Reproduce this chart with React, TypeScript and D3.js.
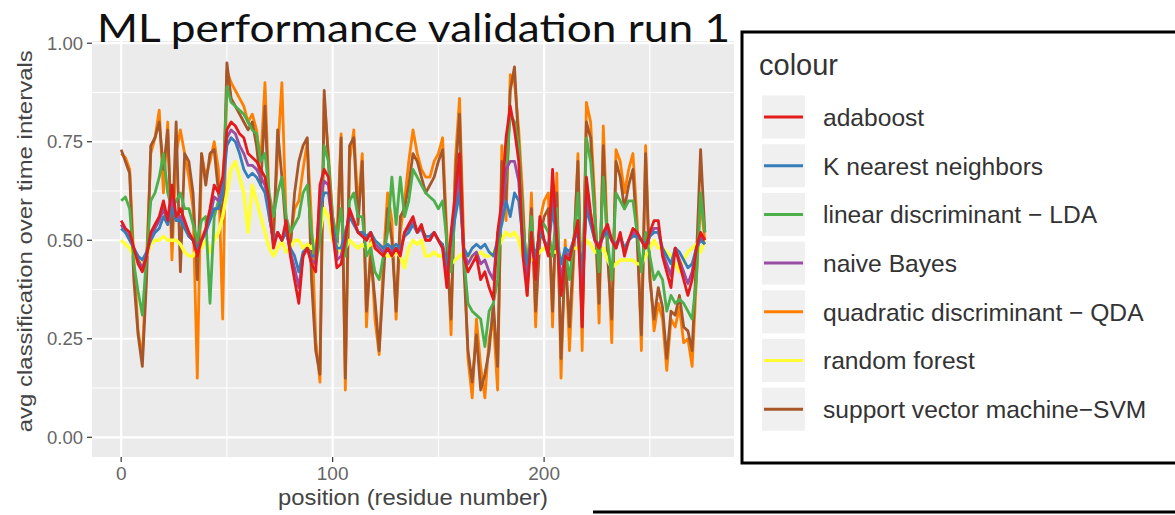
import React from "react";
import * as d3 from "d3";

const positions = [
  0, 2, 4, 6, 8, 10, 12, 14, 16, 18,
  20, 22, 24, 26, 28, 30, 32, 34, 36, 38,
  40, 42, 44, 46, 48, 50, 52, 54, 56, 58,
  60, 62, 64, 66, 68, 70, 72, 74, 76, 78,
  80, 82, 84, 86, 88, 90, 92, 94, 96, 98,
  100, 102, 104, 106, 108, 110, 112, 114, 116, 118,
  120, 122, 124, 126, 128, 130, 132, 134, 136, 138,
  140, 142, 144, 146, 148, 150, 152, 154, 156, 158,
  160, 162, 164, 166, 168, 170, 172, 174, 176, 178,
  180, 182, 184, 186, 188, 190, 192, 194, 196, 198,
  200, 202, 204, 206, 208, 210, 212, 214, 216, 218,
  220, 222, 224, 226, 228, 230, 232, 234, 236, 238,
  240, 242, 244, 246, 248, 250, 252, 254, 256, 258,
  260, 262, 264, 266, 268, 270, 272, 274, 276,
];

const adaboost = [
  0.55, 0.53, 0.52, 0.48, 0.44, 0.42, 0.46, 0.52, 0.54, 0.56,
  0.60, 0.55, 0.64, 0.56, 0.58, 0.55, 0.52, 0.50, 0.46, 0.50,
  0.53, 0.58, 0.64, 0.62, 0.66, 0.78, 0.80, 0.79, 0.77, 0.76,
  0.72, 0.71, 0.70, 0.68, 0.66, 0.60, 0.48, 0.52, 0.50, 0.55,
  0.46, 0.40, 0.34, 0.46, 0.48, 0.44, 0.42, 0.64, 0.68, 0.66,
  0.52, 0.43, 0.44, 0.50, 0.58, 0.55, 0.52, 0.51, 0.50, 0.52,
  0.48, 0.47, 0.46, 0.48, 0.46, 0.48, 0.46, 0.52, 0.54, 0.56,
  0.52, 0.54, 0.50, 0.50, 0.52, 0.50, 0.48, 0.38, 0.52, 0.62,
  0.72, 0.46, 0.42, 0.44, 0.46, 0.40, 0.42, 0.38, 0.35, 0.52,
  0.60, 0.76, 0.84, 0.78, 0.70, 0.46, 0.36, 0.52, 0.40, 0.56,
  0.50, 0.46, 0.68, 0.50, 0.36, 0.46, 0.45, 0.50, 0.55, 0.28,
  0.66, 0.57, 0.50, 0.48, 0.52, 0.54, 0.50, 0.48, 0.52, 0.46,
  0.50, 0.53, 0.52, 0.50, 0.48, 0.52, 0.55, 0.55, 0.46, 0.42,
  0.38, 0.48, 0.44, 0.40, 0.36, 0.40, 0.48, 0.52, 0.50,
];

const knn = [
  0.53, 0.52, 0.50, 0.48, 0.46, 0.45, 0.47, 0.50, 0.52, 0.53,
  0.56, 0.54, 0.58, 0.55, 0.55, 0.53, 0.51, 0.50, 0.48, 0.50,
  0.52, 0.55, 0.58, 0.58, 0.62, 0.74, 0.76, 0.75, 0.72, 0.68,
  0.66, 0.67, 0.66, 0.64, 0.62, 0.56, 0.50, 0.52, 0.50, 0.52,
  0.48, 0.46, 0.42, 0.47, 0.48, 0.46, 0.46, 0.58, 0.62, 0.62,
  0.54, 0.48, 0.48, 0.52, 0.56, 0.54, 0.52, 0.52, 0.51, 0.52,
  0.50, 0.49, 0.48, 0.49, 0.48, 0.49, 0.48, 0.51, 0.52, 0.54,
  0.52, 0.53, 0.51, 0.51, 0.52, 0.50, 0.49, 0.44, 0.50, 0.56,
  0.62, 0.48, 0.46, 0.48, 0.49, 0.48, 0.49, 0.47, 0.46, 0.50,
  0.54, 0.60, 0.56, 0.62, 0.60, 0.50, 0.44, 0.50, 0.46, 0.52,
  0.50, 0.48, 0.58, 0.50, 0.44, 0.48, 0.47, 0.50, 0.52, 0.42,
  0.58, 0.54, 0.50, 0.49, 0.51, 0.52, 0.50, 0.49, 0.51, 0.48,
  0.50, 0.51, 0.51, 0.50, 0.49, 0.51, 0.52, 0.52, 0.48, 0.46,
  0.44, 0.48, 0.47, 0.45, 0.43, 0.44, 0.48, 0.50, 0.49,
];

const lda = [
  0.60, 0.61, 0.58, 0.44, 0.37, 0.31, 0.46, 0.60, 0.62, 0.66,
  0.72, 0.62, 0.58, 0.60, 0.62, 0.58, 0.58, 0.54, 0.50, 0.55,
  0.56, 0.34, 0.56, 0.60, 0.62, 0.89, 0.85, 0.84, 0.83, 0.82,
  0.80, 0.78, 0.77, 0.70, 0.72, 0.62, 0.56, 0.62, 0.66, 0.56,
  0.52, 0.54, 0.56, 0.62, 0.64, 0.52, 0.44, 0.50, 0.74, 0.70,
  0.56, 0.50, 0.58, 0.46, 0.60, 0.62, 0.56, 0.56, 0.46, 0.48,
  0.42, 0.40, 0.46, 0.52, 0.66, 0.54, 0.66, 0.56, 0.60, 0.68,
  0.66, 0.64, 0.62, 0.61, 0.60, 0.58, 0.60, 0.50, 0.42, 0.58,
  0.66, 0.46, 0.34, 0.32, 0.31, 0.30, 0.23, 0.32, 0.34, 0.40,
  0.60, 0.66, 0.82, 0.80, 0.74, 0.54, 0.42, 0.56, 0.40, 0.54,
  0.54, 0.52, 0.46, 0.58, 0.36, 0.48, 0.40, 0.50, 0.62, 0.34,
  0.76, 0.70, 0.56, 0.42, 0.66, 0.50, 0.40, 0.62, 0.60, 0.58,
  0.60, 0.60, 0.52, 0.42, 0.52, 0.46, 0.40, 0.42, 0.40, 0.32,
  0.36, 0.34, 0.35, 0.34, 0.32, 0.30, 0.40, 0.62, 0.52,
];

const naiveBayes = [
  0.54, 0.52, 0.51, 0.48, 0.45, 0.43, 0.46, 0.51, 0.53, 0.55,
  0.58, 0.54, 0.61, 0.55, 0.56, 0.54, 0.51, 0.50, 0.47, 0.50,
  0.52, 0.56, 0.61, 0.60, 0.64, 0.76, 0.78, 0.77, 0.74, 0.72,
  0.69, 0.69, 0.68, 0.66, 0.64, 0.58, 0.49, 0.52, 0.50, 0.53,
  0.47, 0.43, 0.38, 0.46, 0.48, 0.45, 0.44, 0.61, 0.65, 0.64,
  0.53, 0.45, 0.46, 0.51, 0.57, 0.55, 0.52, 0.52, 0.50, 0.52,
  0.49, 0.48, 0.47, 0.48, 0.47, 0.48, 0.47, 0.52, 0.53, 0.55,
  0.52, 0.53, 0.50, 0.50, 0.52, 0.50, 0.48, 0.41, 0.51, 0.59,
  0.67, 0.47, 0.44, 0.46, 0.47, 0.44, 0.45, 0.42, 0.40, 0.51,
  0.57, 0.68, 0.70, 0.70, 0.65, 0.48, 0.40, 0.51, 0.43, 0.54,
  0.50, 0.47, 0.63, 0.50, 0.40, 0.47, 0.46, 0.50, 0.53, 0.35,
  0.62, 0.55, 0.50, 0.48, 0.51, 0.53, 0.50, 0.48, 0.51, 0.47,
  0.50, 0.52, 0.51, 0.50, 0.48, 0.51, 0.53, 0.53, 0.47, 0.44,
  0.41, 0.48, 0.45, 0.42, 0.39, 0.42, 0.48, 0.51, 0.49,
];

const qda = [
  0.72, 0.71, 0.68, 0.45, 0.27, 0.20, 0.45, 0.72, 0.76, 0.83,
  0.62, 0.80, 0.45, 0.72, 0.78, 0.72, 0.66, 0.58, 0.15, 0.72,
  0.66, 0.70, 0.75, 0.68, 0.30, 0.93, 0.90, 0.88, 0.86, 0.84,
  0.80, 0.82, 0.78, 0.70, 0.90, 0.60, 0.52, 0.72, 0.90, 0.55,
  0.50, 0.58, 0.60, 0.68, 0.75, 0.55, 0.25, 0.14, 0.86, 0.72,
  0.56, 0.50, 0.77, 0.12, 0.70, 0.78, 0.58, 0.72, 0.28, 0.50,
  0.30, 0.21, 0.45, 0.62, 0.55, 0.30, 0.52, 0.60, 0.70, 0.78,
  0.72, 0.68, 0.66, 0.66, 0.70, 0.72, 0.76, 0.52, 0.26, 0.70,
  0.86, 0.50, 0.20, 0.10, 0.30, 0.18, 0.10, 0.25, 0.30, 0.12,
  0.74, 0.55, 0.92, 0.90, 0.78, 0.60, 0.36, 0.62, 0.28, 0.55,
  0.60, 0.62, 0.28, 0.67, 0.15, 0.50, 0.22, 0.45, 0.72, 0.22,
  0.85, 0.80, 0.60, 0.29, 0.79, 0.50, 0.24, 0.73, 0.70, 0.62,
  0.68, 0.72, 0.55, 0.22, 0.74, 0.42, 0.27, 0.34, 0.30, 0.17,
  0.30, 0.28, 0.33, 0.24, 0.25, 0.18, 0.40, 0.60, 0.50,
];

const randomForest = [
  0.50, 0.49, 0.48, 0.46, 0.45, 0.44, 0.46, 0.49, 0.50, 0.50,
  0.51, 0.50, 0.50, 0.50, 0.49, 0.47, 0.46, 0.46, 0.48, 0.48,
  0.50, 0.47, 0.50, 0.52, 0.56, 0.62, 0.68, 0.70, 0.66, 0.62,
  0.52, 0.64, 0.60, 0.56, 0.52, 0.48, 0.46, 0.48, 0.50, 0.47,
  0.48, 0.50, 0.50, 0.48, 0.49, 0.48, 0.50, 0.52, 0.58, 0.56,
  0.50, 0.49, 0.47, 0.48, 0.50, 0.49, 0.48, 0.49, 0.48, 0.49,
  0.50, 0.48, 0.47, 0.46, 0.46, 0.47, 0.46, 0.43, 0.48, 0.50,
  0.49, 0.50, 0.46, 0.46, 0.47, 0.46, 0.46, 0.45, 0.44, 0.45,
  0.46, 0.47, 0.46, 0.46, 0.46, 0.47, 0.46, 0.46, 0.47, 0.48,
  0.50, 0.52, 0.51, 0.52, 0.50, 0.46, 0.46, 0.45, 0.46, 0.47,
  0.48, 0.48, 0.47, 0.47, 0.46, 0.46, 0.47, 0.48, 0.48, 0.47,
  0.50, 0.49, 0.47, 0.47, 0.48, 0.45, 0.43, 0.44, 0.45, 0.45,
  0.45, 0.45, 0.44, 0.44, 0.46, 0.48, 0.50, 0.48, 0.48, 0.47,
  0.46, 0.44, 0.42, 0.45, 0.47, 0.48, 0.49, 0.47, 0.50,
];

const svm = [
  0.73, 0.70, 0.67, 0.40, 0.26, 0.18, 0.40, 0.74, 0.76, 0.80,
  0.68, 0.78, 0.50, 0.80, 0.42, 0.72, 0.70, 0.62, 0.40, 0.72,
  0.64, 0.72, 0.73, 0.62, 0.55, 0.95, 0.86, 0.84, 0.82, 0.80,
  0.78, 0.80, 0.74, 0.64, 0.84, 0.56, 0.50, 0.78, 0.66, 0.52,
  0.48, 0.62, 0.70, 0.74, 0.76, 0.40, 0.22, 0.16, 0.88, 0.70,
  0.52, 0.46, 0.76, 0.15, 0.74, 0.76, 0.54, 0.70, 0.32, 0.46,
  0.35, 0.22, 0.40, 0.58, 0.50, 0.32, 0.56, 0.58, 0.64, 0.72,
  0.70, 0.66, 0.62, 0.64, 0.66, 0.70, 0.73, 0.48, 0.30, 0.66,
  0.82, 0.44, 0.22, 0.14, 0.26, 0.12, 0.16, 0.22, 0.34, 0.18,
  0.70, 0.60, 0.88, 0.94, 0.74, 0.56, 0.40, 0.58, 0.32, 0.50,
  0.56, 0.58, 0.32, 0.62, 0.20, 0.46, 0.28, 0.48, 0.70, 0.28,
  0.80, 0.76, 0.56, 0.34, 0.74, 0.46, 0.30, 0.70, 0.66, 0.58,
  0.64, 0.68, 0.50, 0.26, 0.72, 0.40, 0.30, 0.38, 0.33, 0.20,
  0.32, 0.31, 0.36, 0.28, 0.27, 0.22, 0.45, 0.73, 0.52,
];

const seriesNames = [
  "adaboost",
  "K nearest neighbors",
  "linear discriminant \u2212 LDA",
  "naive Bayes",
  "quadratic discriminant \u2212 QDA",
  "random forest",
  "support vector machine\u2212SVM",
];
const seriesValues = [adaboost, knn, lda, naiveBayes, qda, randomForest, svm];
const seriesColors = ["#E41A1C", "#377EB8", "#4DAF4A", "#984EA3", "#FF7F00", "#FFFF33", "#A65628"];
const drawOrder = [4, 6, 5, 2, 3, 1, 0];

const xTicks = [0, 100, 200];
const xMinor = [50, 150, 250];
const yTicks = [0, 0.25, 0.5, 0.75, 1];
const yTickLabels = ["0.00", "0.25", "0.50", "0.75", "1.00"];
const yMinor = [0.125, 0.375, 0.625, 0.875];

const titleText = "ML performance validation run 1";
const xLabel = "position (residue number)";
const yLabel = "avg classification over time intervals";
const legendTitle = "colour";

export default function App() {
  const W = 1175;
  const H = 515;
  const panel = { left: 92, right: 734, top: 23.5, bottom: 457 };
  const ext = d3.extent(positions) as [number, number];
  const pad = (ext[1] - ext[0]) * 0.05;
  const x = d3.scaleLinear().domain([ext[0] - pad, ext[1] + pad]).range([panel.left, panel.right]);
  const y = d3.scaleLinear().domain([-0.05, 1.05]).range([panel.bottom, panel.top]);
  const line = d3
    .line<number>()
    .x((_, i) => x(positions[i]))
    .y((d) => y(d));

  const sans = "'Liberation Sans', Arial, Helvetica, sans-serif";
  const legendX = 742;
  const legendRow0 = 117;
  const legendStep = 48.7;

  return (
    <svg
      width={W}
      height={H}
      viewBox={`0 0 ${W} ${H}`}
      style={{ position: "absolute", left: 0, top: 0, display: "block", background: "#fff" }}
    >
      <defs>
        <clipPath id="panelClip">
          <rect x={panel.left} y={panel.top} width={panel.right - panel.left} height={panel.bottom - panel.top} />
        </clipPath>
      </defs>
      <rect x={0} y={0} width={W} height={H} fill="#fff" />
      <rect
        x={panel.left}
        y={panel.top}
        width={panel.right - panel.left}
        height={panel.bottom - panel.top}
        fill="#EBEBEB"
      />
      {yMinor.map((v) => (
        <line key={"ym" + v} x1={panel.left} x2={panel.right} y1={y(v)} y2={y(v)} stroke="#fff" strokeWidth={1.1} />
      ))}
      {xMinor.map((v) => (
        <line key={"xm" + v} x1={x(v)} x2={x(v)} y1={panel.top} y2={panel.bottom} stroke="#fff" strokeWidth={1.1} />
      ))}
      {yTicks.map((v) => (
        <line key={"yM" + v} x1={panel.left} x2={panel.right} y1={y(v)} y2={y(v)} stroke="#fff" strokeWidth={2.2} />
      ))}
      {xTicks.map((v) => (
        <line key={"xM" + v} x1={x(v)} x2={x(v)} y1={panel.top} y2={panel.bottom} stroke="#fff" strokeWidth={2.2} />
      ))}
      <g clipPath="url(#panelClip)">
        {drawOrder.map((si) => (
          <path
            key={seriesNames[si]}
            d={line(seriesValues[si]) || ""}
            fill="none"
            stroke={seriesColors[si]}
            strokeWidth={si === 5 ? 3.4 : 2.8}
            strokeLinejoin="round"
          />
        ))}
      </g>
      {yTicks.map((v, i) => (
        <g key={"yt" + v}>
          <line x1={panel.left - 5} x2={panel.left} y1={y(v)} y2={y(v)} stroke="#333" strokeWidth={1.2} />
          <text
            x={panel.left - 9}
            y={y(v)}
            dy="0.35em"
            textAnchor="end"
            fontFamily={sans}
            fontSize={18.5}
            fill="#666"
          >
            {yTickLabels[i]}
          </text>
        </g>
      ))}
      {xTicks.map((v) => (
        <g key={"xt" + v}>
          <line x1={x(v)} x2={x(v)} y1={panel.bottom} y2={panel.bottom + 5} stroke="#333" strokeWidth={1.2} />
          <text x={x(v)} y={480} textAnchor="middle" fontFamily={sans} fontSize={19} fill="#666">
            {v}
          </text>
        </g>
      ))}
      <text
        x={(panel.left + panel.right) / 2}
        y={505}
        textAnchor="middle"
        fontFamily={sans}
        fontSize={22}
        fill="#444"
        textLength={270}
        lengthAdjust="spacingAndGlyphs"
      >
        {xLabel}
      </text>
      <text
        transform={`translate(32, ${(panel.top + panel.bottom) / 2 + 1}) rotate(-90)`}
        textAnchor="middle"
        fontFamily={sans}
        fontSize={21}
        fill="#444"
        textLength={382}
        lengthAdjust="spacingAndGlyphs"
      >
        {yLabel}
      </text>
      <rect x={86} y={0} width={656} height={41} fill="#fff" />
      <text
        x={97}
        y={42}
        fontFamily="Lato, 'Open Sans', sans-serif"
        fontSize={38}
        fill="#111"
        textLength={633}
        lengthAdjust="spacingAndGlyphs"
      >
        {titleText}
      </text>
      <rect x={legendX} y={32} width={W} height={431} fill="#fff" stroke="#000" strokeWidth={3} />
      <text x={759} y={75} fontFamily={sans} fontSize={29} fill="#333">
        {legendTitle}
      </text>
      {seriesNames.map((name, i) => {
        const cy = legendRow0 + i * legendStep;
        return (
          <g key={"lg" + name}>
            <rect x={762} y={cy - 21.5} width={43} height={43} fill="#F0F0F0" />
            <line x1={764} x2={803} y1={cy} y2={cy} stroke={seriesColors[i]} strokeWidth={3} />
            <text x={823} y={cy} dy="0.36em" fontFamily={sans} fontSize={24.6} fill="#333">
              {name}
            </text>
          </g>
        );
      })}
      <line x1={593} x2={W} y1={512} y2={512} stroke="#000" strokeWidth={3} />
    </svg>
  );
}
